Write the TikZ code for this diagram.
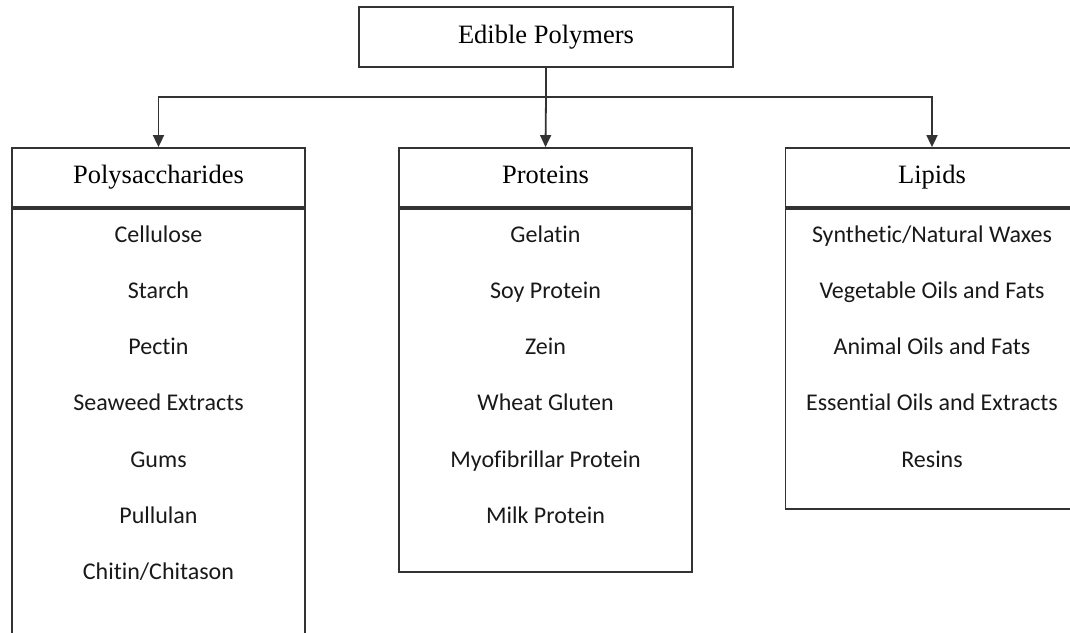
\documentclass[tikz,border=0pt]{standalone}
\usepackage{fontspec}
\setmainfont{Liberation Serif}
\newfontfamily\itemfont[Ligatures=NoCommon]{Carlito}
\usetikzlibrary{arrows.meta}
\begin{document}
\begin{tikzpicture}[x=1pt,y=-1pt,
  box/.style={draw=black!80,line width=1.8pt,inner sep=0pt},
  headbox/.style={box,minimum width=293pt,minimum height=59pt,headtext},
  headtext/.style={font=\fontsize{26.5}{30}\selectfont,text height=18pt,text depth=6pt},
  itemtext/.style={font=\itemfont\fontsize{24}{28}\selectfont,anchor=base,text=black!90},
  conn/.style={draw=black!80,line width=1.8pt},
  arr/.style={conn,-{Triangle[length=12pt,width=11pt]}}]
\useasboundingbox (0,0) rectangle (1070,632);
\clip (0,0) rectangle (1070,632);
% top
\node[box,minimum width=374pt,minimum height=60pt,headtext] (top) at (546,37) {Edible Polymers};
% headers
\node[headbox] (polyH) at (158.5,177.5) {Polysaccharides};
\node[headbox] (protH) at (545.5,177.5) {Proteins};
\node[headbox] (lipH) at (932,177.5) {Lipids};
% bodies
\node[box,minimum width=293pt,minimum height=450pt,anchor=north] (polyB) at (polyH.south) {};
\node[box,minimum width=293pt,minimum height=363pt,anchor=north] (protB) at (protH.south) {};
\node[box,minimum width=293pt,minimum height=300pt,anchor=north] (lipB) at (lipH.south) {};
% connectors
\coordinate (bus) at (546,97);
\draw[conn] (top.south) -- (bus);
\draw[arr] (bus) -- (protH.north);
\draw[arr] (bus) -| (polyH.north);
\draw[arr] (bus) -| (lipH.north);
% items: polysaccharides
\node[itemtext] (p1) at (158.5,242) {Cellulose};
\node[itemtext] (p2) at (158.5,298.3) {Starch};
\node[itemtext] (p3) at (158.5,354.6) {Pectin};
\node[itemtext] (p4) at (158.5,410.9) {Seaweed Extracts};
\node[itemtext] (p5) at (158.5,467.2) {Gums};
\node[itemtext] (p6) at (158.5,523.5) {Pullulan};
\node[itemtext] (p7) at (158.5,579.8) {Chitin/Chitason};
% items: proteins
\node[itemtext] (r1) at (545.5,242) {Gelatin};
\node[itemtext] (r2) at (545.5,298.3) {Soy Protein};
\node[itemtext] (r3) at (545.5,354.6) {Zein};
\node[itemtext] (r4) at (545.5,410.9) {Wheat Gluten};
\node[itemtext] (r5) at (545.5,467.2) {Myofibrillar Protein};
\node[itemtext] (r6) at (545.5,523.5) {Milk Protein};
% items: lipids
\node[itemtext] (l1) at (932,242) {Synthetic/Natural Waxes};
\node[itemtext] (l2) at (932,298.3) {Vegetable Oils and Fats};
\node[itemtext] (l3) at (932,354.6) {Animal Oils and Fats};
\node[itemtext] (l4) at (932,410.9) {Essential Oils and Extracts};
\node[itemtext] (l5) at (932,467.2) {Resins};
\end{tikzpicture}
\end{document}
